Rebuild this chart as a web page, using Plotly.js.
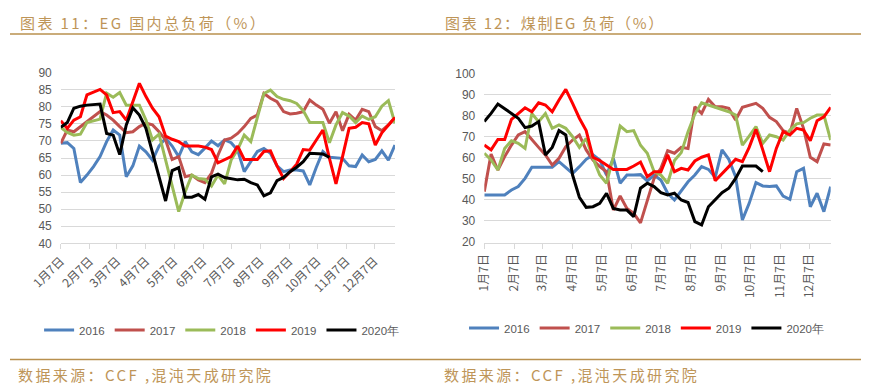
<!DOCTYPE html>
<html>
<head>
<meta charset="utf-8">
<script src="https://cdn.plot.ly/plotly-3.0.1.min.js"></script>
<style>html,body{margin:0;padding:0;background:#fff;}#chart{width:869px;height:392px;}</style>
</head>
<body>
<div id="chart"></div>
<script>
// Week categories (weekly from 1月7日)
var weeks = [];
(function(){ var d0 = Date.UTC(2020,0,7); for (var i=0;i<52;i++){ var d=new Date(d0+i*7*86400000); weeks.push(d.toISOString().slice(0,10)); } })();
var tickDates = ['2020-01-07','2020-02-07','2020-03-07','2020-04-07','2020-05-07','2020-06-07','2020-07-07','2020-08-07','2020-09-07','2020-10-07','2020-11-07','2020-12-07'];
var tickLabels = ['1月7日','2月7日','3月7日','4月7日','5月7日','6月7日','7月7日','8月7日','9月7日','10月7日','11月7日','12月7日'];
var seriesNames = ['2016','2017','2018','2019','2020年'];
var seriesColors = ['#4F81BD','#C0504D','#9BBB59','#FF0000','#000000'];

// 图表11: EG 国内总负荷 (%)
var total2016 = [69.3,69.5,67.8,57.8,60,62.5,65.4,69.8,73.2,71.7,59.5,62.7,68.5,66.8,64.4,68.5,70.8,68.5,65.4,69.8,66.8,66,67.9,70,68.6,70.3,69.5,67.3,61,63.9,66.9,67.8,66.4,62.7,61,61.5,61.5,61.2,57.1,62.3,66.9,65.2,65.1,64.9,62.7,62.5,65.9,63.9,64.6,67.1,64.4,68.8];
var total2017 = [69.3,73.2,72.7,74.2,75.6,77.1,78.6,77.6,76.1,74.2,72.4,72.7,74.2,75.2,74.7,72.7,70.3,64.6,65.4,59.5,60,58.6,57.8,60.5,65.9,70.3,70.8,72.2,74.2,76.6,77.6,83.9,82.5,81.5,78.6,77.9,78.1,78.6,82,80.5,79.3,75.2,78.6,73,77.8,76.1,79.3,78.6,74.2,73,74.7,76.9];
var total2018 = [74,72.5,71.7,72,75.4,75.9,76.4,84,82.8,84.2,80.5,80.5,80.5,76.1,70.3,72,64.4,56.6,49.3,55.1,60,59,58.8,56.8,60,57.4,64.4,67.5,71.7,69.8,76.6,83.9,84.9,83,82.2,81.8,81,78.9,75.4,75.4,75.4,69.5,74.7,78.3,77.3,75.4,77.3,76.3,77.1,80.2,81.8,75.2];
var total2019 = [75.9,73.7,76.1,77.1,83.5,84.2,85.1,83.5,78.3,78.6,76.1,81.5,86.9,83,79.6,77.1,71.4,70.5,69.8,68.5,68.5,68.5,68.2,67.5,63.6,64.4,65.4,68.5,64.6,64.6,64.6,66.9,67.1,62.7,59,61,63.2,67.5,67.3,70.3,73.2,64.9,57.4,65.4,73.7,74,75.4,75,68.8,72.4,74.7,76.9];
var total2020 = [74,75.4,79.6,80.2,80.5,80.7,80.8,72.2,71.7,66,74.7,79.7,77.6,73.7,66.4,59.5,52.4,61.3,62.2,53.5,53.5,54.3,52.9,59.5,60.3,59.3,59,58.6,58.8,57.8,57.1,53.9,54.8,58.4,59.3,61,62.3,63.9,66.4,66.4,66.2,65.2];

// 图表12: 煤制EG 负荷 (%)
var coal2016 = [42.3,42.3,42.3,42.3,44.7,46.3,50.2,55.5,55.5,55.5,55.5,58.2,55.5,52.6,55.8,59.3,61.4,59,51.8,59.8,47.9,51.8,51.8,52,49,51.8,49.4,43.1,39.9,44.4,48.6,51.8,55.8,54.5,50.7,63.8,59.3,51,30.4,38.3,48.2,46.6,46.3,46.6,41.8,40.2,53.4,55,36.7,43.1,34.3,46.3];
var coal2017 = [43.9,61.8,54.2,60.6,66.1,70.9,72.5,68.5,65,61.4,56.6,59.8,65.3,68.5,70.9,63.8,59,55.8,53.4,35.1,41.8,35.9,33.5,29,39.9,50.2,55,63.4,62.2,65,64.5,84.4,81.2,87.9,84.4,84.4,83.6,78.1,84.1,85.2,86,83.6,79.3,77.3,73,71.7,83.6,74.1,60.3,58.2,66.6,66.1];
var coal2018 = [62.2,59,54.2,64.5,68.2,66.9,64.5,81.2,77.3,81.2,74.1,75.7,74.1,70.1,65,69.3,59.8,51.8,47.9,60.6,75.2,72.5,73,66,62.2,53.4,51.8,47.9,58.7,62.5,72.5,80.9,86.3,85.2,84.4,83.1,82,80.4,66.1,70.4,74.9,66.9,70.9,70.1,68.5,73.3,76.2,76.8,78.9,80.4,80.4,68.5];
var coal2019 = [66.1,63.8,68.8,68.8,78.4,81.2,83.9,82,86.3,85.2,82,87.6,92.7,86,78.9,73,60.3,58.7,56.6,54.5,54.5,54.5,56.1,58,51,53.4,53.4,61.4,53.4,55,54.2,58.5,60.3,61.4,49.1,52.3,55.8,59.3,58.2,65,73.6,63.8,53.4,64.5,72.5,70.9,74.1,73.3,68.2,77.7,79.6,84.1];
var coal2020 = [77.3,81.2,85.7,83.6,81.2,78.9,74.4,75.2,77.3,61.4,65,73,70.9,51.8,41.2,36.4,36.7,38.3,43.1,35.9,35.1,35.1,32,45.5,47.9,46.3,43.4,42.3,43.1,39.9,38.7,29.6,28,36.7,39.9,43.4,45.5,50.2,56.1,56.1,56.1,53.4];

var leftData = [total2016,total2017,total2018,total2019,total2020];
var rightData = [coal2016,coal2017,coal2018,coal2019,coal2020];

var traces = [];
leftData.forEach(function(vals,k){
  traces.push({type:'scatter',mode:'lines',x:weeks.slice(0,vals.length),y:vals,name:seriesNames[k],
    line:{color:seriesColors[k],width:3},xaxis:'x',yaxis:'y',legend:'legend',hoverinfo:'skip'});
});
rightData.forEach(function(vals,k){
  traces.push({type:'scatter',mode:'lines',x:weeks.slice(0,vals.length),y:vals,name:seriesNames[k],
    line:{color:seriesColors[k],width:3},xaxis:'x2',yaxis:'y2',legend:'legend2',hoverinfo:'skip'});
});

var tickFont = {family:'Liberation Sans, Arial, sans-serif',size:12,color:'#595959'};
var cjkTick = {family:'Noto Sans CJK SC, sans-serif',size:12,color:'#595959'};
var gold = '#BE9558';

function xax(domain, angle){
  return {domain:domain,type:'date',range:['2020-01-07','2020-12-29'],tickmode:'array',tickvals:tickDates,ticktext:tickLabels,
    tickangle:angle,tickfont:cjkTick,showgrid:false,zeroline:false,showline:true,linecolor:'#D9D9D9',linewidth:1,
    ticks:'outside',ticklen:5,tickcolor:'#D9D9D9',tickwidth:1,fixedrange:true,automargin:false};
}
function yax(domain, range, dtick, anchor){
  return {domain:domain,range:range,dtick:dtick,tick0:0,tickfont:tickFont,gridcolor:'#D9D9D9',gridwidth:1,zeroline:false,
    showline:false,ticks:'',ticklabelstandoff:8,anchor:anchor,fixedrange:true,automargin:false};
}
var legFont = {family:'Liberation Sans, Arial, sans-serif',size:11.5,color:'#595959'};

var layout = {
  width:869,height:392,margin:{l:0,r:0,t:0,b:0,autoexpand:false},paper_bgcolor:'#ffffff',plot_bgcolor:'#ffffff',
  xaxis:xax([0.0699,0.4545],-45),
  yaxis:yax([0.3793,0.8145],[40,90],5,'x'),
  xaxis2:xax([0.5573,0.9559],-90),
  yaxis2:yax([0.3834,0.8112],[20,100],10,'x2'),
  legend:{orientation:'h',x:0.255,xanchor:'center',y:0.158,yanchor:'middle',font:legFont,itemwidth:30,bgcolor:'rgba(0,0,0,0)'},
  legend2:{orientation:'h',x:0.744,xanchor:'center',y:0.163,yanchor:'middle',font:legFont,itemwidth:30,bgcolor:'rgba(0,0,0,0)'},
  showlegend:true,
  annotations:[
    {text:'图表 11：EG 国内总负荷（%）',xref:'paper',yref:'paper',x:0.023,y:0.9426,xanchor:'left',yanchor:'middle',showarrow:false,font:{family:'Noto Sans CJK SC, sans-serif',size:15,color:gold}},
    {text:'图表 12：煤制EG 负荷（%）',xref:'paper',yref:'paper',x:0.512,y:0.9426,xanchor:'left',yanchor:'middle',showarrow:false,font:{family:'Noto Sans CJK SC, sans-serif',size:15,color:gold}},
    {text:'数据来源：CCF ,混沌天成研究院',xref:'paper',yref:'paper',x:0.0207,y:0.0434,xanchor:'left',yanchor:'middle',showarrow:false,font:{family:'Noto Sans CJK SC, sans-serif',size:15,color:gold}},
    {text:'数据来源：CCF ,混沌天成研究院',xref:'paper',yref:'paper',x:0.5113,y:0.0434,xanchor:'left',yanchor:'middle',showarrow:false,font:{family:'Noto Sans CJK SC, sans-serif',size:15,color:gold}}
  ],
  shapes:[
    {type:'line',xref:'paper',yref:'paper',x0:0.0115,x1:0.9908,y0:0.9133,y1:0.9133,line:{color:'#B8904E',width:1.5}},
    {type:'line',xref:'paper',yref:'paper',x0:0.0115,x1:0.9908,y0:0.0829,y1:0.0829,line:{color:'#B8904E',width:1.5}}
  ]
};

// target left edges (px) and letter spacing of the four text blocks, in annotation order
var textLeft = [20, 445, 18, 444];
var textSpacing = ['2.4px', '1.8px', '2.4px', '2.4px'];
Plotly.newPlot('chart',traces,layout,{staticPlot:true,displayModeBar:false}).then(function(){
  var anns = document.querySelectorAll('.annotation-text');
  anns.forEach(function(t, i){
    t.style.letterSpacing = textSpacing[i];
    var left = t.getBoundingClientRect().left;
    var x = parseFloat(t.getAttribute('x') || '0');
    t.setAttribute('x', x + (textLeft[i] - left));
  });
});
</script>
</body>
</html>
